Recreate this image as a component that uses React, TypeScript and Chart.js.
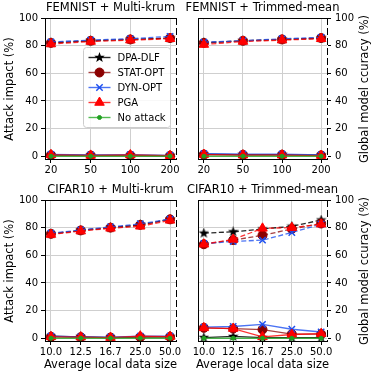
import React, { useEffect, useRef } from "react";
import { Chart, registerables } from "chart.js";
import { drawPoint } from "chart.js/helpers";

Chart.register(...registerables);

const FONT = "'DejaVu Sans', sans-serif";
Chart.defaults.font.family = FONT;

// ---------------- data ----------------
const SERIES = ["DPA-DLF", "STAT-OPT", "DYN-OPT", "PGA", "No attack"];
const FEMNIST_SIZES = ["20", "50", "100", "200"];
const CIFAR_SIZES = ["10.0", "12.5", "16.7", "25.0", "50.0"];
const Y_TICKS = [0, 20, 40, 60, 80, 100];

// impact series order: DPA-DLF, STAT-OPT, DYN-OPT, PGA, No attack
const femMkImpact = [
  [1.0, 0.6, 0.6, 0.4],
  [0.8, 0.5, 0.5, 0.3],
  [1.3, 0.9, 1.1, 0.6],
  [1.0, 0.6, 0.9, 0.4],
  [0, 0, 0, 0],
];
// accuracy series order: DPA-DLF, STAT-OPT, DYN-OPT, PGA
const femMkAccuracy = [
  [82, 83.5, 84.5, 85.5],
  [82, 83.5, 84.5, 85.5],
  [82.7, 84, 85, 86.7],
  [81.2, 83, 84, 85],
];

const femTmImpact = [
  [1.5, 1.2, 1.2, 0.8],
  [1.2, 1.0, 1.0, 0.6],
  [1.8, 1.5, 1.5, 1.0],
  [1.2, 0.8, 0.8, 0.5],
  [0, 0, 0, 0],
];
const femTmAccuracy = [
  [82, 83.5, 84.5, 85.5],
  [82, 83.5, 84.5, 85.5],
  [82.5, 83.5, 85, 86],
  [80.8, 83, 84, 85],
];

const cifMkImpact = [
  [1.5, 1.0, 0.5, 1.0, 1.0],
  [1.0, 0.8, 0.5, 0.8, 1.0],
  [1.5, 1.0, 0.8, 1.5, 1.5],
  [1.0, 0.8, 0.5, 1.5, 1.2],
  [0, 0, 0, 0, 0],
];
const cifMkAccuracy = [
  [75.5, 78, 80, 82, 86],
  [75.5, 78, 80, 82, 86],
  [76, 78.3, 80.5, 82.8, 86.2],
  [75, 77.5, 79.5, 81, 85.3],
];

const cifTmImpact = [
  [0.5, 1.3, 0.5, 0.5, 0.5],
  [7.5, 7.0, 6.3, 3.0, 3.0],
  [8.0, 8.5, 10.0, 6.5, 4.5],
  [7.5, 7.0, 1.0, 2.7, 3.3],
  [0, 0, 0, 0, 0],
];
const cifTmAccuracy = [
  [76, 77, 79, 81, 85.5],
  [68, 71, 74.5, 79, 83],
  [68.5, 70, 71, 76.5, 82.5],
  [68, 71.5, 79.5, 80, 82.5],
];

// ---------------- styles ----------------
const LINE_COLORS = [
  "rgba(0,0,0,0.85)",
  "rgba(139,0,0,0.75)",
  "rgba(30,80,240,0.8)",
  "rgba(255,0,0,0.8)",
  "rgba(40,170,40,0.8)",
];
const MARKER_COLORS = ["#000000", "#8b0000", "#1e50f0", "#ff0000", "#22a022"];
const GRID = "#cfcfcf";
const DASH = [5, 2.5];

function makeStar(color: string, size: number) {
  const c = document.createElement("canvas");
  c.width = size;
  c.height = size;
  const ctx = c.getContext("2d")!;
  const cx = size / 2, cy = size / 2;
  const R = size / 2, r = R * 0.42;
  ctx.beginPath();
  for (let i = 0; i < 10; i++) {
    const rad = (Math.PI / 5) * i - Math.PI / 2;
    const rr = i % 2 === 0 ? R : r;
    const px = cx + Math.cos(rad) * rr;
    const py = cy + Math.sin(rad) * rr;
    if (i === 0) ctx.moveTo(px, py);
    else ctx.lineTo(px, py);
  }
  ctx.closePath();
  ctx.fillStyle = color;
  ctx.fill();
  return c;
}

function markerStyle(i: number, star: HTMLCanvasElement) {
  switch (i) {
    case 0:
      return { pointStyle: star as any, radius: 5, borderWidth: 0 };
    case 1:
      return { pointStyle: "circle", radius: 4.5, borderWidth: 1 };
    case 2:
      return { pointStyle: "crossRot", radius: 4.5, borderWidth: 1.5 };
    case 3:
      return { pointStyle: "triangle", radius: 5.5, borderWidth: 1 };
    default:
      return { pointStyle: "circle", radius: 2, borderWidth: 1 };
  }
}

// ---------------- layout ----------------
const YL_W = 36;
const YR_W = 36;
const X_H = 24;

type PanelCfg = {
  title: string;
  labels: string[];
  impact: number[][];
  accuracy: number[][];
  left: number;
  right: number;
  top: number;
  bottom: number;
  showLeft: boolean;
  showRight: boolean;
  legend: boolean;
};

const PANELS: PanelCfg[] = [
  { title: "FEMNIST + Multi-krum", labels: FEMNIST_SIZES, impact: femMkImpact, accuracy: femMkAccuracy,
    left: 45, right: 176, top: 18, bottom: 159, showLeft: true, showRight: false, legend: true },
  { title: "FEMNIST + Trimmed-mean", labels: FEMNIST_SIZES, impact: femTmImpact, accuracy: femTmAccuracy,
    left: 198, right: 327, top: 18, bottom: 159, showLeft: false, showRight: true, legend: false },
  { title: "CIFAR10 + Multi-krum", labels: CIFAR_SIZES, impact: cifMkImpact, accuracy: cifMkAccuracy,
    left: 45, right: 176, top: 200, bottom: 341, showLeft: true, showRight: false, legend: false },
  { title: "CIFAR10 + Trimmed-mean", labels: CIFAR_SIZES, impact: cifTmImpact, accuracy: cifTmAccuracy,
    left: 198, right: 327, top: 200, bottom: 341, showLeft: false, showRight: true, legend: false },
];

const framePlugin = {
  id: "frameSpines",
  afterDraw(chart: any) {
    const { ctx, chartArea } = chart;
    ctx.save();
    ctx.strokeStyle = "#000";
    ctx.lineWidth = 1;
    // top spine
    ctx.beginPath();
    const y = Math.round(chartArea.top) + 0.5;
    ctx.moveTo(chartArea.left, y);
    ctx.lineTo(chartArea.right + 0.5, y);
    ctx.stroke();
    // dashed right spine (twin axis)
    const x = Math.round(chartArea.right) + 0.5;
    ctx.fillStyle = "#fff";
    ctx.fillRect(x - 0.5, chartArea.top + 1, 1, chartArea.bottom - chartArea.top);
    ctx.setLineDash([7, 3]);
    ctx.beginPath();
    ctx.moveTo(x, chartArea.top);
    ctx.lineTo(x, chartArea.bottom + 1);
    ctx.stroke();
    ctx.restore();
  },
};

function makeLegendPlugin(star: HTMLCanvasElement) {
  return {
    id: "cornerLegend",
    afterDraw(chart: any, _a: any, opts: any) {
      if (!opts || !opts.show) return;
      const { ctx, chartArea } = chart;
      const x0 = chartArea.left + 38.5;
      const y0 = chartArea.top + 29.5;
      const w = 87, h = 80, r = 3;
      ctx.save();
      ctx.beginPath();
      ctx.moveTo(x0 + r, y0);
      ctx.arcTo(x0 + w, y0, x0 + w, y0 + h, r);
      ctx.arcTo(x0 + w, y0 + h, x0, y0 + h, r);
      ctx.arcTo(x0, y0 + h, x0, y0, r);
      ctx.arcTo(x0, y0, x0 + w, y0, r);
      ctx.closePath();
      ctx.fillStyle = "rgba(255,255,255,0.85)";
      ctx.fill();
      ctx.strokeStyle = "#cccccc";
      ctx.lineWidth = 1;
      ctx.stroke();
      ctx.font = `10px ${FONT}`;
      ctx.textBaseline = "middle";
      ctx.textAlign = "left";
      SERIES.forEach((name, i) => {
        const y = y0 + 10 + i * 15;
        ctx.strokeStyle = LINE_COLORS[i];
        ctx.lineWidth = 1.4;
        ctx.setLineDash([]);
        ctx.beginPath();
        ctx.moveTo(x0 + 5, y);
        ctx.lineTo(x0 + 27, y);
        ctx.stroke();
        const m = markerStyle(i, star);
        ctx.fillStyle = MARKER_COLORS[i];
        ctx.strokeStyle = MARKER_COLORS[i];
        ctx.lineWidth = m.borderWidth;
        drawPoint(ctx, { pointStyle: m.pointStyle, radius: m.radius, rotation: 0, borderWidth: m.borderWidth } as any, x0 + 16, y);
        ctx.fillStyle = "#000";
        ctx.fillText(name, x0 + 34, y + 0.5);
      });
      ctx.restore();
    },
  };
}

function buildConfig(p: PanelCfg, star: HTMLCanvasElement): any {
  const n = p.labels.length;
  const margin = (n - 1) * 0.05;
  const datasets: any[] = [];
  let drawIdx = 0;
  const pushSeries = (vals: number[], i: number, dashed: boolean, name: string) => {
    const m = markerStyle(i, star);
    datasets.push({
      label: name,
      data: vals.map((v, k) => ({ x: k, y: v })),
      borderColor: LINE_COLORS[i],
      borderWidth: 1.3,
      borderDash: dashed ? DASH : [],
      pointStyle: m.pointStyle,
      pointRadius: m.radius,
      pointBorderWidth: m.borderWidth,
      pointBackgroundColor: MARKER_COLORS[i],
      pointBorderColor: MARKER_COLORS[i],
      fill: false,
      tension: 0,
      order: 1000 - drawIdx++,
    });
  };
  p.impact.forEach((vals, i) => pushSeries(vals, i, false, SERIES[i]));
  p.accuracy.forEach((vals, i) => pushSeries(vals, i, true, SERIES[i] + " acc"));

  const tickFont = { family: FONT, size: 10 };
  const setYTicks = (s: any) => {
    s.ticks = Y_TICKS.map((v) => ({ value: v }));
  };

  return {
    type: "line",
    data: { datasets },
    plugins: [framePlugin, makeLegendPlugin(star)],
    options: {
      responsive: false,
      animation: false,
      devicePixelRatio: 1,
      events: [],
      layout: {
        padding: {
          left: p.left - YL_W,
          right: 375 - p.right - YR_W,
          top: p.top,
          bottom: 375 - p.bottom - X_H,
        },
      },
      plugins: {
        legend: { display: false },
        tooltip: { enabled: false },
        title: { display: false },
        cornerLegend: { show: p.legend },
      },
      scales: {
        x: {
          type: "linear",
          min: -margin,
          max: n - 1 + margin,
          afterBuildTicks: (s: any) => {
            s.ticks = p.labels.map((_, i) => ({ value: i }));
          },
          afterFit: (s: any) => {
            s.height = X_H;
            s.paddingLeft = 0;
            s.paddingRight = 0;
          },
          ticks: {
            callback: (v: any) => p.labels[Math.round(Number(v))],
            font: tickFont,
            color: "#000",
            padding: 1,
            maxRotation: 0,
            autoSkip: false,
          },
          grid: { color: GRID, lineWidth: 1, drawTicks: true, tickLength: 4, tickColor: "#000", tickWidth: 1 },
          border: { display: true, color: "#000", width: 1 },
        },
        y: {
          type: "linear",
          position: "left",
          min: -2,
          max: 100,
          afterBuildTicks: setYTicks,
          afterFit: (s: any) => {
            s.width = YL_W;
            s.paddingTop = 0;
            s.paddingBottom = 0;
          },
          ticks: { display: p.showLeft, font: tickFont, color: "#000", padding: 3 },
          grid: { color: GRID, lineWidth: 1, drawTicks: p.showLeft, tickLength: 4, tickColor: "#000", tickWidth: 1 },
          border: { display: true, color: "#000", width: 1 },
        },
        y2: {
          type: "linear",
          position: "right",
          min: -2,
          max: 100,
          afterBuildTicks: setYTicks,
          afterFit: (s: any) => {
            s.width = YR_W;
            s.paddingTop = 0;
            s.paddingBottom = 0;
          },
          ticks: { display: p.showRight, font: tickFont, color: "#000", padding: 4 },
          grid: { display: true, drawOnChartArea: false, drawTicks: p.showRight, tickLength: 4, tickColor: "#000", tickWidth: 1 },
          border: { display: false },
        },
      },
    },
  };
}

function PanelChart({ cfg }: { cfg: PanelCfg }) {
  const ref = useRef<HTMLCanvasElement>(null);
  useEffect(() => {
    const star = makeStar("#000", 11);
    const chart = new Chart(ref.current!, buildConfig(cfg, star));
    return () => chart.destroy();
  }, [cfg]);
  return (
    <canvas
      ref={ref}
      width={375}
      height={375}
      style={{ position: "absolute", left: 0, top: 0, width: 375, height: 375 }}
    />
  );
}

const textBase: React.CSSProperties = {
  position: "absolute",
  fontFamily: FONT,
  fontSize: 11.5,
  color: "#000",
  whiteSpace: "nowrap",
  lineHeight: 1,
  transform: "translate(-50%, -50%)",
};
const rotated: React.CSSProperties = { ...textBase, transform: "translate(-50%, -50%) rotate(-90deg)" };

export default function App() {
  return (
    <div style={{ position: "fixed", left: 0, top: 0, width: 375, height: 375, background: "#fff", overflow: "hidden" }}>
      {PANELS.map((p, i) => (
        <PanelChart key={i} cfg={p} />
      ))}
      {PANELS.map((p, i) => (
        <div key={"t" + i} style={{ ...textBase, left: (p.left + p.right) / 2, top: p.top - 10 }}>
          {p.title}
        </div>
      ))}
      {PANELS.filter((p) => p.showLeft).map((p, i) => (
        <div key={"yl" + i} style={{ ...rotated, left: 10, top: (p.top + p.bottom) / 2 }}>
          Attack impact (%)
        </div>
      ))}
      {PANELS.filter((p) => p.showRight).map((p, i) => (
        <div key={"yr" + i} style={{ ...rotated, left: 365, top: (p.top + p.bottom) / 2 }}>
          Global model ccuracy (%)
        </div>
      ))}
      {PANELS.filter((p) => p.top > 100).map((p, i) => (
        <div key={"xl" + i} style={{ ...textBase, left: (p.left + p.right) / 2, top: 365 }}>
          Average local data size
        </div>
      ))}
    </div>
  );
}
